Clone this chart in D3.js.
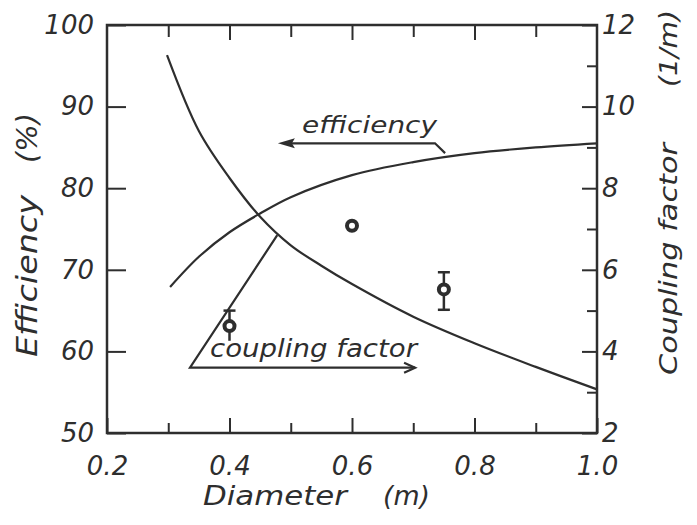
<!DOCTYPE html>
<html>
<head>
<meta charset="utf-8">
<script src="https://cdn.jsdelivr.net/npm/d3@7"></script>
<style>
  body { margin: 0; background: #fff; }
  text { font-family: "DejaVu Sans", sans-serif; font-style: italic; fill: #2e2e2e; }
</style>
</head>
<body>
<div id="main"></div>
<script>
// DATA

// Efficiency curve (left axis, %)
var eff_diam = [0.303, 0.35, 0.4, 0.45, 0.5, 0.6, 0.7, 0.8, 0.9, 1.0]
var eff_vals = [67.9, 71.6, 74.6, 76.9, 78.9, 81.6, 83.2, 84.3, 85.0, 85.5]

// Coupling factor curve (right axis, 1/m)
var cpl_diam = [0.298, 0.35, 0.4, 0.45, 0.5, 0.55, 0.6, 0.7, 0.8, 0.9, 1.0]
var cpl_vals = [11.26, 9.4, 8.25, 7.3, 6.6, 6.1, 5.65, 4.85, 4.2, 3.62, 3.07]

// Measured points with error bars (left axis, %)
var meas_diam = [0.4, 0.6, 0.75]
var meas_vals = [63.1, 75.4, 67.6]
var meas_low  = [61.3, 75.4, 65.1]
var meas_high = [65.0, 75.4, 69.7]

// Tick labels
var x_ticks = [0.2, 0.4, 0.6, 0.8, 1.0]
var x_minor = [0.3, 0.5, 0.7, 0.9]
var yl_ticks = [50, 60, 70, 80, 90, 100]
var yr_ticks = [2, 4, 6, 8, 10, 12]
var yr_minor = [3, 5, 7, 9, 11]

// CHART
var width = 697, height = 525
var ink = '#2e2e2e'
var tick_font = 26

var svg = d3.select('#main').append('svg')
  .attr('width', width)
  .attr('height', height)

var x = d3.scaleLinear().domain([0.2, 1.0]).range([107, 597])
var yL = d3.scaleLinear().domain([50, 100]).range([433, 25])
var yR = d3.scaleLinear().domain([2, 12]).range([433, 25])

// Helper to style an axis group
function style_axis(g) {
  g.select('.domain').remove()
  g.selectAll('line').attr('stroke', ink).attr('stroke-width', 2)
  g.selectAll('text')
    .attr('font-family', '"DejaVu Sans", sans-serif')
    .attr('font-style', 'italic')
    .attr('font-size', tick_font)
    .attr('fill', ink)
}

// Bottom axis (ticks point inward)
svg.append('g').attr('transform', `translate(0,${yL(50)})`)
  .call(d3.axisBottom(x).tickValues(x_ticks).tickSize(-15).tickPadding(24).tickFormat(d3.format('.1f')))
  .call(style_axis)
svg.append('g').attr('transform', `translate(0,${yL(50)})`)
  .call(d3.axisBottom(x).tickValues(x_minor).tickSize(-10).tickFormat(''))
  .call(style_axis)

// Top axis (ticks only)
svg.append('g').attr('transform', `translate(0,${yL(100)})`)
  .call(d3.axisTop(x).tickValues(x_ticks.slice(1, -1)).tickSize(-15).tickFormat(''))
  .call(style_axis)
svg.append('g').attr('transform', `translate(0,${yL(100)})`)
  .call(d3.axisTop(x).tickValues(x_minor).tickSize(-12).tickFormat(''))
  .call(style_axis)

// Left axis
svg.append('g').attr('transform', `translate(${x(0.2)},0)`)
  .call(d3.axisLeft(yL).tickValues(yl_ticks).tickSize(-19).tickPadding(13))
  .call(style_axis)

// Right axis
svg.append('g').attr('transform', `translate(${x(1.0)},0)`)
  .call(d3.axisRight(yR).tickValues(yr_ticks).tickSize(-15).tickPadding(5))
  .call(style_axis)
svg.append('g').attr('transform', `translate(${x(1.0)},0)`)
  .call(d3.axisRight(yR).tickValues(yr_minor).tickSize(-10).tickFormat(''))
  .call(style_axis)

// Frame
svg.append('rect')
  .attr('x', x(0.2)).attr('y', yL(100))
  .attr('width', x(1.0) - x(0.2)).attr('height', yL(50) - yL(100))
  .attr('fill', 'none').attr('stroke', ink).attr('stroke-width', 2.5)

// Curves
var eff_line = d3.line().curve(d3.curveCatmullRom.alpha(0.5))
  .x(d => x(d[0])).y(d => yL(d[1]))
svg.append('path')
  .datum(d3.zip(eff_diam, eff_vals))
  .attr('d', eff_line)
  .attr('fill', 'none').attr('stroke', ink).attr('stroke-width', 2.2)

var cpl_line = d3.line().curve(d3.curveCatmullRom.alpha(0.5))
  .x(d => x(d[0])).y(d => yR(d[1]))
svg.append('path')
  .datum(d3.zip(cpl_diam, cpl_vals))
  .attr('d', cpl_line)
  .attr('fill', 'none').attr('stroke', ink).attr('stroke-width', 2.2)

// Measured points with error bars
var meas = meas_diam.map((d, i) => ({d: d, v: meas_vals[i], lo: meas_low[i], hi: meas_high[i]}))
var pts = svg.selectAll('g.meas').data(meas).join('g').attr('class', 'meas')
pts.filter(p => p.hi > p.lo).append('line')
  .attr('x1', p => x(p.d)).attr('x2', p => x(p.d))
  .attr('y1', p => yL(p.hi)).attr('y2', p => yL(p.lo))
  .attr('stroke', ink).attr('stroke-width', 2.5)
pts.filter(p => p.hi > p.lo).append('line')
  .attr('x1', p => x(p.d) - 6).attr('x2', p => x(p.d) + 6)
  .attr('y1', p => yL(p.hi)).attr('y2', p => yL(p.hi))
  .attr('stroke', ink).attr('stroke-width', 2.5)
pts.filter(p => p.d > 0.7).append('line')
  .attr('x1', p => x(p.d) - 6).attr('x2', p => x(p.d) + 6)
  .attr('y1', p => yL(p.lo)).attr('y2', p => yL(p.lo))
  .attr('stroke', ink).attr('stroke-width', 2.5)
pts.append('circle')
  .attr('cx', p => x(p.d)).attr('cy', p => yL(p.v))
  .attr('r', 5)
  .attr('fill', '#fff').attr('stroke', ink).attr('stroke-width', 4)

// Annotation: efficiency (leader from curve, arrow to the left)
var eff_lead = [[0.752, 84.3], [0.7355, 85.5], [0.497, 85.5]]
svg.append('path')
  .attr('d', d3.line().x(d => x(d[0])).y(d => yL(d[1]))(eff_lead))
  .attr('fill', 'none').attr('stroke', ink).attr('stroke-width', 2.2)
var tipx = x(0.479), tipy = yL(85.5)
svg.append('path')
  .attr('d', `M${tipx},${tipy} L${tipx + 17},${tipy - 5} L${tipx + 14},${tipy} L${tipx + 17},${tipy + 5} Z`)
  .attr('fill', ink)
svg.append('text')
  .attr('x', 302).attr('y', 133)
  .attr('font-size', 23)
  .attr('textLength', 135).attr('lengthAdjust', 'spacingAndGlyphs')
  .text('efficiency')

// Annotation: coupling factor (leader from curve, arrow to the right)
var cpl_lead = [[0.478, 6.85], [0.3355, 3.6], [0.703, 3.6]]
svg.append('path')
  .attr('d', d3.line().x(d => x(d[0])).y(d => yR(d[1]))(cpl_lead))
  .attr('fill', 'none').attr('stroke', ink).attr('stroke-width', 2.2)
var ax = x(0.703), ay = yR(3.6)
svg.append('path')
  .attr('d', `M${ax - 11},${ay - 5} L${ax},${ay} L${ax - 11},${ay + 5}`)
  .attr('fill', 'none').attr('stroke', ink).attr('stroke-width', 2.2)
svg.append('text')
  .attr('x', 210).attr('y', 357)
  .attr('font-size', 24)
  .attr('textLength', 207).attr('lengthAdjust', 'spacingAndGlyphs')
  .text('coupling factor')

// Axis titles
svg.append('text').attr('x', 203).attr('y', 505).attr('font-size', 26)
  .attr('textLength', 144).attr('lengthAdjust', 'spacingAndGlyphs').text('Diameter')
svg.append('text').attr('x', 383).attr('y', 505).attr('font-size', 26)
  .attr('textLength', 47).attr('lengthAdjust', 'spacingAndGlyphs').text('(m)')

svg.append('text').attr('transform', 'translate(37,357) rotate(-90)').attr('font-size', 28)
  .attr('textLength', 162).attr('lengthAdjust', 'spacingAndGlyphs').text('Efficiency')
svg.append('text').attr('transform', 'translate(37,163) rotate(-90)').attr('font-size', 28)
  .attr('textLength', 50).attr('lengthAdjust', 'spacingAndGlyphs').text('(%)')

svg.append('text').attr('transform', 'translate(677,375) rotate(-90)').attr('font-size', 25)
  .attr('textLength', 232).attr('lengthAdjust', 'spacingAndGlyphs').text('Coupling factor')
svg.append('text').attr('transform', 'translate(677,87) rotate(-90)').attr('font-size', 25)
  .attr('textLength', 77).attr('lengthAdjust', 'spacingAndGlyphs').text('(1/m)')
</script>
</body>
</html>
